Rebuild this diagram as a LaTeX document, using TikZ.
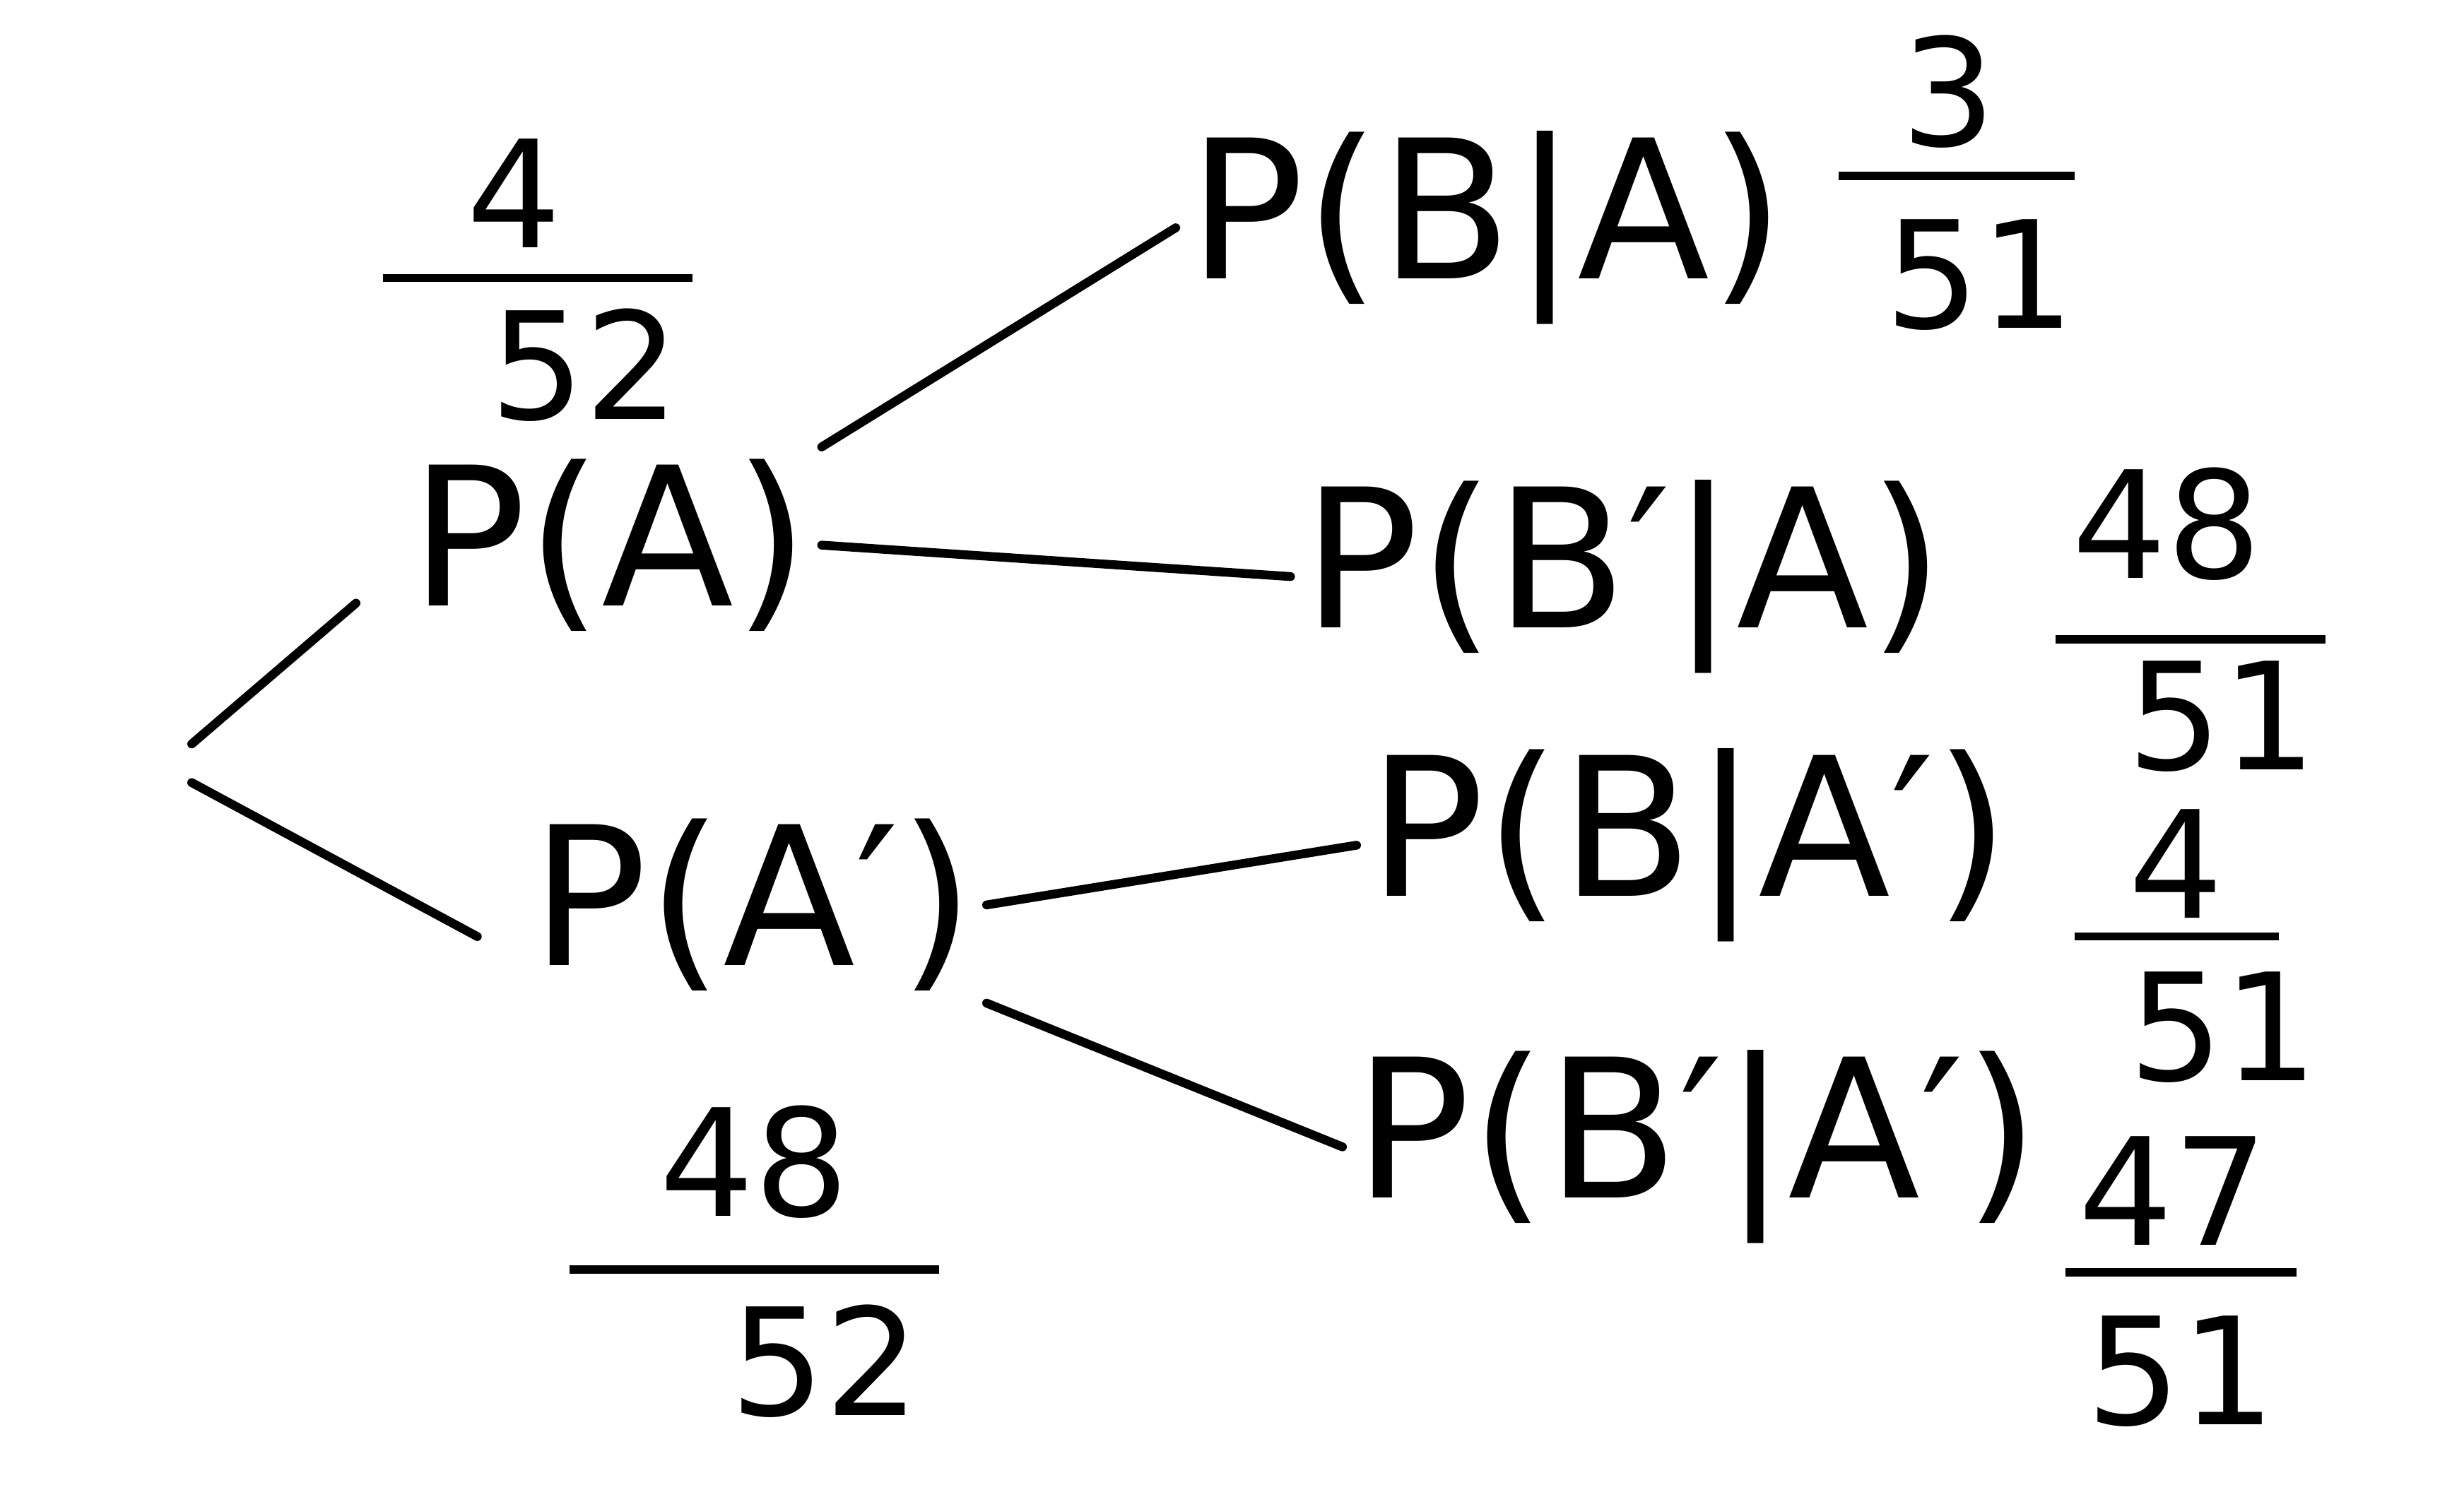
\documentclass[tikz,border=0pt]{standalone}
\usepackage{fontspec}
\setmainfont{DejaVu Sans}
\usetikzlibrary{positioning}
\tikzset{
    mylabel/.style = {align=center, inner sep=2pt, font=\fontsize{35}{40}\selectfont, text=black},
    mynum/.style = {align=center, inner sep=1pt, font=\fontsize{27}{30}\selectfont, text=black},
    mybar/.style = {fill=black, draw=none, inner sep=0pt, minimum height=1.5pt},
    edgen/.style = {-, line width=1.6pt, black, line cap=round},
}

\begin{document}
\begin{tikzpicture}
%
\path[use as bounding box] (0,0) rectangle (15.68,9.45);
%
\coordinate (root) at (1.22,4.82);
\node[mylabel] at (3.88,5.98) (pa) {P(A)};
\node[mylabel] at (4.79,3.69) (pap) {P(A′)};
\node[mylabel] at (9.46,8.00) (pba) {P(B|A)};
\node[mylabel] at (10.33,5.78) (pbpa) {P(B′|A)};
\node[mylabel] at (10.75,4.07) (pbap) {P(B|A′)};
\node[mylabel] at (10.80,2.15) (pbpap) {P(B′|A′)};
%
\node[mybar, minimum width=1.97cm] at (3.42,7.68) (b1) {};
\node[mynum, above=0.12cm of b1, xshift=-0.15cm] (n1) {4};
\node[mynum, below=0.12cm of b1, xshift=0.3cm] (d1) {52};
%
\node[mybar, minimum width=2.35cm] at (4.80,1.37) (b2) {};
\node[mynum, above=0.25cm of b2] (n2) {48};
\node[mynum, below=0.15cm of b2, xshift=0.45cm] (d2) {52};
%
\node[mybar, minimum width=1.50cm] at (12.45,8.33) (b3) {};
\node[mynum, above=0.1cm of b3, xshift=-0.05cm] (n3) {3};
\node[mynum, below=0.2cm of b3, xshift=0.15cm] (d3) {51};
%
\node[mybar, minimum width=1.72cm] at (13.94,5.38) (b4) {};
\node[mynum, above=0.3cm of b4, xshift=-0.15cm] (n4) {48};
\node[mynum, below=0.06cm of b4, xshift=0.2cm] (d4) {51};
%
\node[mybar, minimum width=1.30cm] at (13.85,3.49) (b5) {};
\node[mynum, above=0.04cm of b5] (n5) {4};
\node[mynum, below=0.15cm of b5, xshift=0.3cm] (d5) {51};
%
\node[mybar, minimum width=1.47cm] at (13.88,1.35) (b6) {};
\node[mynum, above=0.1cm of b6, xshift=-0.05cm] (n6) {47};
\node[mynum, below=0.2cm of b6] (d6) {51};
%
\draw[edgen] ([yshift=-3pt]root) edge[shorten >=0.35cm] (pa.186);
\draw[edgen] ([yshift=-10pt]root) edge[shorten >=0.3cm] (pap.193);
\draw[edgen] (pa.north east) edge (pba.west);
\draw[edgen] (pa.east) edge (pbpa.west);
\draw[edgen] (pap.east) edge (pbap.west);
\draw[edgen] (pap.south east) edge (pbpap.west);

\end{tikzpicture}
\end{document}
